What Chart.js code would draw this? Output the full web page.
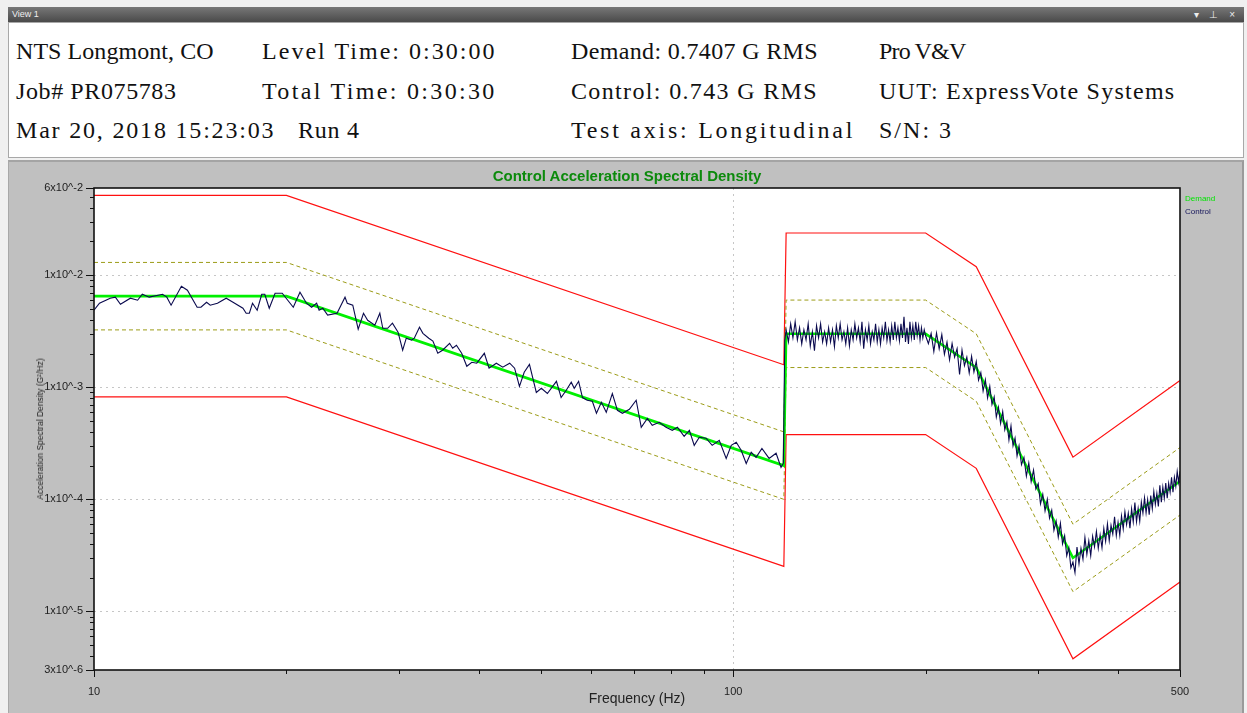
<!DOCTYPE html>
<html>
<head>
<meta charset="utf-8">
<script src="https://cdn.jsdelivr.net/npm/chart.js@4.4.1/dist/chart.umd.min.js"></script>
<style>
  html, body { margin: 0; padding: 0; }
  body { width: 1247px; height: 713px; background: #f0f0f0; position: relative; overflow: hidden; font-family: "Liberation Sans", Arial, sans-serif; }
  #bar { position: absolute; left: 8px; top: 7px; width: 1236px; height: 15px; background: linear-gradient(#777, #4a4a4a); color: #eee; font-size: 9px; line-height: 15px; }
  #bar .name { position: absolute; left: 4px; }
  #bar .icons { position: absolute; right: 5px; font-size: 10px; letter-spacing: 4px; }
  #hdr { position: absolute; left: 8px; top: 22px; width: 1234px; height: 134px; background: #fff; border: 1px solid #a8a8a8; }
  #hdr span { position: absolute; font-family: "Liberation Serif", serif; font-size: 24px; line-height: 24px; color: #111; white-space: pre; }
  #panel { position: absolute; left: 8px; top: 160px; width: 1233px; height: 553px; background: #c0c0c0; border-top: 2px solid #a4a4a4; border-left: 1px solid #a8a8a8; border-right: 2px solid #9a9a9a; }
  #asd { position: absolute; left: 0; top: 0; }
  #title { position: absolute; left: 618px; top: 5px; transform: translateX(-50%); color: #0c8a0c; font-weight: bold; font-size: 15px; white-space: nowrap; }
  #lgd { position: absolute; left: 1176px; top: 30px; font-size: 8px; line-height: 13px; }
  #ytitle { position: absolute; left: 31px; top: 267px; width: 0; height: 0; }
  #ytitle div { position: absolute; transform: translate(-50%, -50%) rotate(-90deg); white-space: nowrap; font-size: 8.5px; color: #222; }
</style>
</head>
<body>
<div id="bar"><span class="name">View 1</span><span class="icons">▾ ⊥ ×</span></div>
<div id="hdr">
  <span style="left:7px;top:16px">NTS Longmont, CO</span>
  <span style="left:253px;top:16px">Level Time: 0:30:00</span>
  <span style="left:562px;top:16px">Demand: 0.7407 G RMS</span>
  <span style="left:870px;top:16px">Pro V&amp;V</span>
  <span style="left:7px;top:56px">Job# PR075783</span>
  <span style="left:253px;top:56px">Total Time: 0:30:30</span>
  <span style="left:562px;top:56px">Control: 0.743 G RMS</span>
  <span style="left:870px;top:56px">UUT: ExpressVote Systems</span>
  <span style="left:7px;top:95px">Mar 20, 2018 15:23:03</span>
  <span style="left:289px;top:95px">Run 4</span>
  <span style="left:562px;top:95px">Test axis: Longitudinal</span>
  <span style="left:870px;top:95px">S/N: 3</span>
</div>
<div id="panel">
  <canvas id="asd" width="1233" height="551"></canvas>
  <div id="title">Control Acceleration Spectral Density</div>
  <div id="lgd"><div style="color:#00e400">Demand</div><div style="color:#14145a">Control</div></div>
  <div id="ytitle"><div>Acceleration Spectral Density (G²/Hz)</div></div>
</div>

<script>
// profile breakpoints (Hz) and levels (G^2/Hz)
const demandFreq = [10, 20, 120, 121, 200, 240, 340, 500];
const demandAsd = [0.0065, 0.0065, 0.0002, 0.003, 0.003, 0.0015, 0.00003, 0.000145];
const alarmHigh = [0.013, 0.013, 0.0004, 0.006, 0.006, 0.003, 0.00006, 0.00029];
const alarmLow = [0.00325, 0.00325, 0.0001, 0.0015, 0.0015, 0.00075, 0.000015, 0.0000725];
const abortHigh = [0.0516, 0.0516, 0.00159, 0.0238, 0.0238, 0.0119, 0.000238, 0.00115];
const abortLow = [0.00082, 0.00082, 0.0000252, 0.000378, 0.000378, 0.000189, 0.00000378, 0.0000183];

// measured control spectrum
const controlFreq = [
  10, 10.2, 10.6, 10.8, 11.0, 11.4, 11.7, 11.9, 12.2, 12.8, 13.0, 13.2, 13.7, 14.0, 14.5, 14.7,
  15.0, 15.2, 15.6, 16.1, 16.5, 17.1, 17.3, 17.5, 17.7, 18.0, 18.3, 18.5, 18.8, 19.2, 19.5, 19.7,
  20.5, 21.0, 21.5, 21.9, 22.3, 22.5, 22.8, 23.2, 24.0, 24.7, 24.9, 25.4, 25.9, 26.4, 26.8, 27.5,
  28.0, 28.3, 28.8, 29.3, 29.9, 30.4, 30.8, 31.4, 31.7, 32.3, 32.7, 33.4, 33.9, 34.5, 35.1,
  36.0, 36.4, 36.9, 37.6, 38.3, 39.0, 39.7, 40.8, 41.5, 42.6, 43.6, 44.7, 45.5, 46.3, 47.1, 48.0,
  49.2, 50.1, 51.2, 52.9, 53.8, 54.8, 55.8, 56.4, 57.3, 58.1, 59.1, 60.2, 61.1, 62.2, 63.3, 64.7,
  65.9, 67.1, 68.8, 70.5, 71.8, 73.4, 74.7, 76.6, 78.5, 80.3, 81.8, 83.8, 85.4, 86.9, 88.5, 90.7,
  92.7, 95.1, 97.5, 99.3, 101.1, 102.9, 104.8, 106.7, 108.6, 110.9, 113.8, 116.7, 118.8, 119.8, 120.4,
  121, 122, 123, 124, 125, 126, 127, 128, 129, 130, 131, 132, 133, 134, 135, 136,
  137, 138, 139, 140, 141, 142, 143, 144, 145, 146, 147, 148, 149, 150, 151, 152,
  153, 154, 155, 156, 157, 158, 159, 160, 161, 162, 163, 164, 165, 166, 167, 168,
  169, 170, 171, 172, 173, 174, 175, 176, 177, 178, 179, 180, 181, 182, 183, 184,
  185, 186, 187, 188, 189, 190, 191, 192, 193, 194, 195, 196, 197, 198, 199, 200,
  202, 204, 206, 208, 210, 212, 214, 216, 218, 220, 222, 224, 226, 228, 230, 232,
  234, 236, 238, 240, 242, 244, 246, 248, 250, 252, 254, 256, 258, 260, 262, 264,
  266, 268, 270, 272, 274, 276, 278,
  280, 282.5, 285, 287.5, 290, 292.5, 295, 297.5, 300, 302.5, 305, 307.5, 310, 312.5, 315, 317.5,
  320, 322.5, 325, 327.5, 330, 332.5, 335, 337.5, 340, 342.5, 345, 347.5, 350, 352.5, 355, 357.5,
  360, 362.5, 365, 367.5, 370, 372.5, 375, 377.5, 380, 382.5, 385, 387.5, 390, 392.5, 395, 397.5,
  400, 402.5, 405, 407.5, 410, 412.5, 415, 417.5, 420, 422.5, 425, 427.5, 430, 432.5, 435, 437.5,
  440, 442.5, 445, 447.5, 450, 452.5, 455, 457.5, 460, 462.5, 465, 467.5, 470, 472.5, 475, 477.5,
  480, 482.5, 485, 487.5, 490, 492.5, 495, 497.5, 500
];
const controlAsd = [
  0.00487, 0.00562, 0.00624, 0.00637, 0.00551, 0.00624, 0.00598, 0.00676, 0.00637, 0.00676, 0.00637, 0.0054, 0.00798, 0.00734, 0.00518, 0.00518,
  0.00574, 0.0054, 0.00562, 0.00624, 0.00574, 0.00507, 0.00458, 0.00458, 0.00562, 0.00487, 0.00676, 0.00676, 0.00507, 0.0069, 0.0069, 0.0069,
  0.00518, 0.00705, 0.00562, 0.00518, 0.00562, 0.00487, 0.00507, 0.0044, 0.00458, 0.00637, 0.00562, 0.0054, 0.0033, 0.00458, 0.00396, 0.00358,
  0.00458, 0.00336, 0.00336, 0.00373, 0.0031, 0.00214, 0.00274, 0.00263, 0.00274, 0.00343, 0.00303, 0.00274, 0.00258, 0.00201, 0.00214,
  0.00247, 0.00223, 0.00237, 0.00201, 0.00154, 0.00167, 0.00164, 0.00201, 0.00148, 0.00164, 0.00151, 0.00164, 0.00148, 0.00102, 0.00136, 0.0016,
  0.0009, 0.00098, 0.00088, 0.00113, 0.00081, 0.00094, 0.00111, 0.00098, 0.00113, 0.00081, 0.000766, 0.00075, 0.000586, 0.000735, 0.000598, 0.00088,
  0.000623, 0.000586, 0.000637, 0.000766, 0.00044, 0.000528, 0.000458, 0.000487, 0.00044, 0.000413, 0.00044, 0.000365, 0.000413, 0.000303, 0.000358, 0.000351,
  0.000303, 0.000336, 0.000232, 0.000303, 0.000323, 0.000274, 0.000209, 0.000263, 0.000237, 0.000285, 0.000232, 0.000258, 0.000193, 0.00021, 0.0026,
  0.00326, 0.00254, 0.00368, 0.00276, 0.00384, 0.00265, 0.00339, 0.00244, 0.00326, 0.00265, 0.00368, 0.00234, 0.00313, 0.00212, 0.00354, 0.00276,
  0.00368, 0.00254, 0.00313, 0.00244, 0.00339, 0.00254, 0.00326, 0.0023, 0.00354, 0.00276, 0.00368, 0.00265, 0.00313, 0.00244, 0.00339, 0.00234,
  0.00326, 0.00265, 0.00368, 0.00276, 0.00339, 0.00254, 0.00384, 0.00221, 0.00326, 0.00265, 0.00354, 0.00244, 0.00313, 0.00265, 0.00368, 0.00254,
  0.00326, 0.00244, 0.00339, 0.00276, 0.00384, 0.0026, 0.00326, 0.00254, 0.00354, 0.00265, 0.00384, 0.00276, 0.00339, 0.0026, 0.00368, 0.00276,
  0.00426, 0.00254, 0.00339, 0.00244, 0.00384, 0.00276, 0.00354, 0.00265, 0.00384, 0.00288, 0.00354, 0.00265, 0.00339, 0.00276, 0.00326, 0.00288,
  0.00245, 0.00302, 0.00209, 0.00305, 0.0022, 0.00295, 0.00197, 0.00253, 0.00176, 0.00246, 0.00186, 0.00221, 0.0013, 0.00215, 0.00156, 0.00186,
  0.00134, 0.00189, 0.00137, 0.0017, 0.00116, 0.00135, 0.000926, 0.00117, 0.000804, 0.00102, 0.000701, 0.000821, 0.000542, 0.000664, 0.000475, 0.000606,
  0.000417, 0.000491, 0.000339, 0.000452, 0.0003, 0.000353, 0.000244,
  0.0003, 0.000204, 0.000237, 0.000161, 0.000211, 0.000144, 0.000182, 0.000124, 0.000138, 0.000091, 0.000111, 0.000079, 0.0001, 0.000068, 0.00008, 0.000053,
  0.000064, 0.000046, 0.000061, 0.00004, 0.0000475, 0.0000314, 0.000037, 0.0000245, 0.0000276, 0.0000222, 0.0000375, 0.0000266, 0.0000366, 0.0000293, 0.0000456, 0.0000324,
  0.0000426, 0.0000315, 0.0000469, 0.0000377, 0.0000516, 0.0000365, 0.0000481, 0.000037, 0.000055, 0.0000423, 0.0000604, 0.0000428, 0.0000586, 0.0000489, 0.0000698, 0.0000474,
  0.0000622, 0.0000478, 0.000071, 0.0000545, 0.0000776, 0.0000597, 0.0000751, 0.0000554, 0.0000821, 0.000063, 0.0000934, 0.0000633, 0.000083, 0.0000637, 0.0000943, 0.0000753,
  0.000103, 0.0000757, 0.0000991, 0.0000729, 0.000108, 0.0000827, 0.0001175, 0.00009, 0.000113, 0.0000865, 0.0001335, 0.0000942, 0.0001285, 0.0001024, 0.0001394, 0.0001024,
  0.000139, 0.0001157, 0.0001574, 0.0001156, 0.0001572, 0.0001305, 0.0001773, 0.0001417, 0.000178
];

const xTickValues = [10, 100, 500];
const xTickLabels = ['10', '100', '500'];
const xMinorValues = [20, 30, 40, 50, 60, 70, 80, 90, 200, 300, 400];
const xGridValues = [100];

const yTickValues = [3e-6, 1e-5, 1e-4, 1e-3, 1e-2, 6e-2];
const yTickLabels = ['3x10^-6', '1x10^-5', '1x10^-4', '1x10^-3', '1x10^-2', '6x10^-2'];
const yMinorValues = [4e-6, 5e-6, 6e-6, 7e-6, 8e-6, 9e-6,
  2e-5, 3e-5, 4e-5, 5e-5, 6e-5, 7e-5, 8e-5, 9e-5,
  2e-4, 3e-4, 4e-4, 5e-4, 6e-4, 7e-4, 8e-4, 9e-4,
  2e-3, 3e-3, 4e-3, 5e-3, 6e-3, 7e-3, 8e-3, 9e-3,
  2e-2, 3e-2, 4e-2, 5e-2];
const yGridValues = [1e-5, 1e-4, 1e-3, 1e-2];

function pts(fs, vs) {
  return fs.map((f, i) => ({ x: f, y: vs[i] }));
}

// white plot area, grid, frame and tick marks drawn through the scales
const axisMarks = {
  id: 'axisMarks',
  beforeDatasetsDraw(chart) {
    const { ctx, chartArea: a, scales } = chart;
    ctx.save();
    ctx.fillStyle = '#fff';
    ctx.fillRect(a.left, a.top, a.right - a.left, a.bottom - a.top);
    ctx.strokeStyle = '#c6c6c6';
    ctx.lineWidth = 1;
    ctx.setLineDash([2, 4]);
    ctx.beginPath();
    yGridValues.forEach(v => {
      const py = Math.round(scales.y.getPixelForValue(v)) + 0.5;
      ctx.moveTo(a.left, py); ctx.lineTo(a.right, py);
    });
    xGridValues.forEach(v => {
      const px = Math.round(scales.x.getPixelForValue(v)) + 0.5;
      ctx.moveTo(px, a.top); ctx.lineTo(px, a.bottom);
    });
    ctx.stroke();
    ctx.restore();
  },
  afterDraw(chart) {
    const { ctx, chartArea: a, scales } = chart;
    ctx.save();
    ctx.strokeStyle = '#111';
    ctx.lineWidth = 1.6;
    ctx.strokeRect(a.left, a.top, a.right - a.left, a.bottom - a.top);
    ctx.lineWidth = 1;
    ctx.beginPath();
    yTickValues.forEach(v => {
      const py = Math.round(scales.y.getPixelForValue(v)) + 0.5;
      ctx.moveTo(a.left - 8, py); ctx.lineTo(a.left, py);
    });
    yMinorValues.forEach(v => {
      const py = Math.round(scales.y.getPixelForValue(v)) + 0.5;
      ctx.moveTo(a.left - 4, py); ctx.lineTo(a.left, py);
    });
    xTickValues.forEach(v => {
      const px = Math.round(scales.x.getPixelForValue(v)) + 0.5;
      ctx.moveTo(px, a.bottom); ctx.lineTo(px, a.bottom + 7);
    });
    xMinorValues.forEach(v => {
      const px = Math.round(scales.x.getPixelForValue(v)) + 0.5;
      ctx.moveTo(px, a.bottom); ctx.lineTo(px, a.bottom + 4);
    });
    ctx.stroke();
    ctx.restore();
  }
};

const ctx = document.getElementById('asd').getContext('2d');
const myChart = new Chart(ctx, {
  type: 'line',
  data: {
    datasets: [
      { label: 'Control', data: pts(controlFreq, controlAsd), borderColor: '#0a0a4e', borderWidth: 1.1 },
      { label: 'Demand', data: pts(demandFreq, demandAsd), borderColor: '#00f000', borderWidth: 2.6 },
      { label: 'Alarm high', data: pts(demandFreq, alarmHigh), borderColor: '#9c9c18', borderWidth: 1, borderDash: [4, 3] },
      { label: 'Alarm low', data: pts(demandFreq, alarmLow), borderColor: '#9c9c18', borderWidth: 1, borderDash: [4, 3] },
      { label: 'Abort high', data: pts(demandFreq, abortHigh), borderColor: '#ff1010', borderWidth: 1.2 },
      { label: 'Abort low', data: pts(demandFreq, abortLow), borderColor: '#ff1010', borderWidth: 1.2 }
    ]
  },
  options: {
    responsive: false,
    animation: false,
    devicePixelRatio: 1,
    elements: { point: { radius: 0 }, line: { tension: 0 } },
    layout: { padding: { left: 0, top: 26, right: 62, bottom: 0 } },
    plugins: { legend: { display: false }, tooltip: { enabled: false }, title: { display: false } },
    scales: {
      x: {
        type: 'logarithmic',
        min: 10,
        max: 500,
        grid: { display: false, drawTicks: false },
        border: { display: false },
        afterBuildTicks: scale => { scale.ticks = xTickValues.map(v => ({ value: v })); },
        afterFit: scale => { scale.height = 43; },
        ticks: {
          autoSkip: false, maxRotation: 0, padding: 15, color: '#222',
          font: { family: 'Liberation Sans', size: 11 },
          callback: (v, i) => xTickLabels[i]
        },
        title: { display: true, text: 'Frequency (Hz)', color: '#222', font: { family: 'Liberation Sans', size: 14 }, padding: { top: 0, bottom: 5 } }
      },
      y: {
        type: 'logarithmic',
        min: 3e-6,
        max: 6e-2,
        grid: { display: false, drawTicks: false },
        border: { display: false },
        afterBuildTicks: scale => { scale.ticks = yTickValues.map(v => ({ value: v })); },
        afterFit: scale => { scale.width = 85; },
        ticks: {
          autoSkip: false, padding: 11, color: '#222',
          font: { family: 'Liberation Sans', size: 11 },
          callback: (v, i) => yTickLabels[i]
        }
      }
    }
  },
  plugins: [axisMarks]
});

// header uses a fixed character pitch like the original readout
document.querySelectorAll('#hdr span').forEach(el => {
  const n = el.textContent.length;
  const w = el.getBoundingClientRect().width;
  el.style.letterSpacing = ((n * 12.35 - w) / n) + 'px';
});
</script>
</body>
</html>
